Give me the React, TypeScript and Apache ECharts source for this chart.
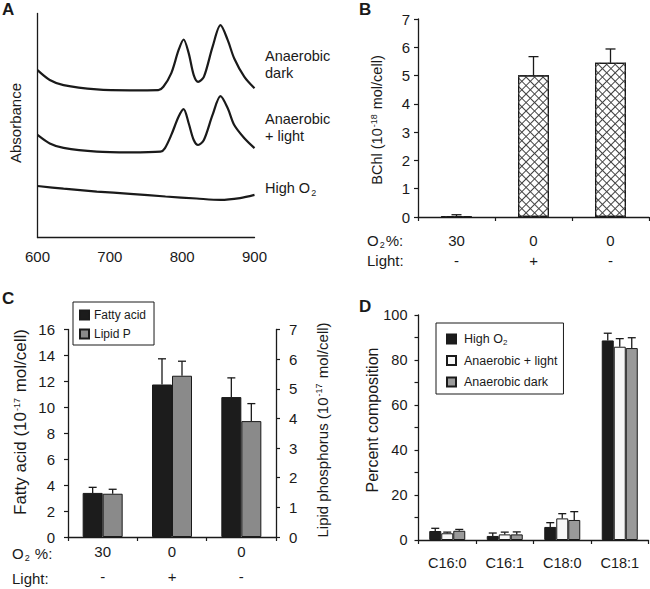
import React, { useEffect, useRef } from 'react';
import * as echarts from 'echarts';

const FONT = '"Liberation Sans", Arial, Helvetica, sans-serif';
const INK = '#1a1a1a';

// ---------- Panel A: absorbance spectra (arbitrary units) ----------
const darkWl = [600, 617, 636, 682, 728, 767, 774, 785, 795, 802, 809, 816, 822, 830, 842, 853, 863, 872, 886, 900];
const darkAbs = [0.747, 0.703, 0.68, 0.661, 0.657, 0.658, 0.673, 0.734, 0.836, 0.884, 0.823, 0.725, 0.695, 0.717, 0.851, 0.948, 0.881, 0.799, 0.717, 0.666];
const lightWl = [600, 617, 636, 682, 728, 770, 776, 785, 795, 802, 809, 816, 822, 830, 842, 853, 863, 872, 886, 900];
const lightAbs = [0.458, 0.42, 0.4, 0.383, 0.38, 0.383, 0.398, 0.458, 0.539, 0.573, 0.51, 0.435, 0.413, 0.435, 0.547, 0.631, 0.577, 0.502, 0.443, 0.399];
const highWl = [600, 636, 682, 728, 777, 820, 853, 880, 900];
const highAbs = [0.23, 0.218, 0.205, 0.195, 0.183, 0.174, 0.168, 0.176, 0.19];
const wlTicks = [600, 700, 800, 900];

// ---------- Panels B & C: growth conditions ----------
const o2Levels = ['30', '0', '0'];
const lightLevels = ['-', '+', '-'];
const bchl = [0.02, 5.01, 5.45];
const bchlSD = [0.06, 0.66, 0.49];
const fattyAcid = [3.4, 11.76, 10.79];
const fattyAcidSD = [0.43, 1.98, 1.48];
const lipidP = [1.46, 5.44, 3.91];
const lipidPSD = [0.15, 0.49, 0.59];

// ---------- Panel D: fatty acid composition ----------
const acyl = ['C16:0', 'C16:1', 'C18:0', 'C18:1'];
const highO2 = [4.0, 1.8, 5.8, 88.7];
const highO2SD = [1.2, 1.3, 1.9, 3.2];
const anaLight = [3.0, 2.5, 9.6, 85.9];
const anaLightSD = [0.5, 1.0, 2.1, 3.6];
const anaDark = [4.1, 2.5, 8.9, 85.3];
const anaDarkSD = [0.6, 1.1, 3.7, 4.6];

const condCats = o2Levels.map((o, i) => `${o}\n${lightLevels[i]}`);

const axisLine = { show: true, lineStyle: { color: INK, width: 1.3 } };
const tick = { show: true, length: 4, lineStyle: { color: INK, width: 1.2 } };

function errSeries(xi: number, yi: number, values: number[], sds: number[], offset: number, half: number) {
  return {
    type: 'custom',
    xAxisIndex: xi,
    yAxisIndex: yi,
    z: 10,
    silent: true,
    data: values.map((v, i) => [i, v, v + sds[i]]),
    encode: { x: 0, y: [1, 2] },
    renderItem: (_p: any, api: any) => {
      const i = api.value(0);
      const v = api.value(1);
      const t = api.value(2);
      const p0 = api.coord([i, v]);
      const p1 = api.coord([i, t]);
      const x = p0[0] + offset;
      const st = { stroke: INK, lineWidth: 1.3 };
      return {
        type: 'group',
        children: [
          { type: 'line', shape: { x1: x, y1: p0[1], x2: x, y2: p1[1] }, style: st },
          { type: 'line', shape: { x1: x - half, y1: p1[1], x2: x + half, y2: p1[1] }, style: st },
        ],
      };
    },
  };
}

const richSub = {
  sub: { fontSize: 9, fontFamily: FONT, fill: INK, color: INK, verticalAlign: 'top', padding: [8, 1, 0, 1] },
};
const richSup = {
  sup: { fontSize: 9, fontFamily: FONT, fill: INK, color: INK, verticalAlign: 'top', padding: [0, 1, 0, 1] },
};

function txt(x: number, y: number, text: string, extra: any = {}, rot = 0) {
  return {
    type: 'text',
    x,
    y,
    rotation: rot,
    silent: true,
    style: {
      text,
      fontSize: 15,
      fontFamily: FONT,
      fill: INK,
      align: 'left',
      verticalAlign: 'middle',
      lineHeight: 16,
      ...extra,
    },
  };
}

const option: any = {
  animation: false,
  backgroundColor: '#fff',
  textStyle: { fontFamily: FONT, color: INK },
  grid: [
    { left: 37.5, top: 13.5, width: 217, height: 224 },
    { left: 418, top: 19, width: 231, height: 198 },
    { left: 68, top: 329.5, width: 208, height: 210 },
    { left: 418.5, top: 315, width: 230, height: 225 },
  ],
  xAxis: [
    {
      gridIndex: 0, type: 'value', min: wlTicks[0], max: wlTicks[wlTicks.length - 1], interval: 100,
      axisLine, axisTick: { show: false }, splitLine: { show: false },
      axisLabel: { fontSize: 15, color: INK, margin: 11 },
    },
    {
      gridIndex: 1, type: 'category', data: condCats,
      axisLine, axisTick: tick, splitLine: { show: false },
      axisLabel: { fontSize: 15, color: INK, margin: 13, lineHeight: 20 },
    },
    {
      gridIndex: 2, type: 'category', data: condCats,
      axisLine, axisTick: tick, splitLine: { show: false },
      axisLabel: { fontSize: 15, color: INK, margin: 2, lineHeight: 25 },
    },
    {
      gridIndex: 3, type: 'category', data: acyl,
      axisLine, axisTick: tick, splitLine: { show: false },
      axisLabel: { fontSize: 14.5, color: INK, margin: 16, lineHeight: 14 },
    },
  ],
  yAxis: [
    {
      gridIndex: 0, type: 'value', min: 0, max: 1,
      axisLine, axisTick: { show: false }, axisLabel: { show: false }, splitLine: { show: false },
    },
    {
      gridIndex: 1, type: 'value', min: 0, max: 7, interval: 1,
      axisLine, axisTick: tick, splitLine: { show: false },
      axisLabel: { fontSize: 15, color: INK, margin: 8 },
    },
    {
      gridIndex: 2, type: 'value', min: 0, max: 16, interval: 2, position: 'left',
      axisLine, axisTick: tick, splitLine: { show: false },
      axisLabel: { fontSize: 15, color: INK, margin: 13 },
    },
    {
      gridIndex: 2, type: 'value', min: 0, max: 7, interval: 1, position: 'right',
      axisLine, axisTick: tick, splitLine: { show: false },
      axisLabel: { fontSize: 15, color: INK, margin: 13 },
    },
    {
      gridIndex: 3, type: 'value', min: 0, max: 100, interval: 20,
      axisLine, axisTick: tick, splitLine: { show: false },
      minorTick: { show: true, splitNumber: 2, length: 4, lineStyle: { color: INK, width: 1.2 } },
      minorSplitLine: { show: false },
      axisLabel: { fontSize: 14.5, color: INK, margin: 11 },
    },
  ],
  legend: [
    {
      data: ['Fatty acid', 'Lipid P'],
      orient: 'vertical', left: 73, top: 302,
      itemWidth: 9, itemHeight: 9, itemGap: 5, icon: 'rect',
      padding: [6, 8, 4, 6],
      borderColor: INK, borderWidth: 1, selectedMode: false,
      textStyle: { fontSize: 12, color: INK, fontFamily: FONT, lineHeight: 14 },
    },
    {
      data: ['High O2', 'Anaerobic + light', 'Anaerobic dark'],
      orient: 'vertical', left: 436, top: 323,
      itemWidth: 9, itemHeight: 9, itemGap: 7.5, icon: 'rect',
      padding: [9, 6, 5, 10],
      borderColor: INK, borderWidth: 1, selectedMode: false,
      formatter: (n: string) => (n === 'High O2' ? 'High O{sub|2}' : n),
      textStyle: {
        fontSize: 12.5, color: INK, fontFamily: FONT, lineHeight: 14, padding: [0, 0, 0, 3],
        rich: { sub: { fontSize: 8, color: INK, fontFamily: FONT, verticalAlign: 'bottom', padding: [6, 0, 0, 0] } },
      },
    },
  ],
  series: [
    // Panel A
    { type: 'line', xAxisIndex: 0, yAxisIndex: 0, data: darkWl.map((w, i) => [w, darkAbs[i]]), smooth: 0.3, symbol: 'none', lineStyle: { color: INK, width: 2.2 } },
    { type: 'line', xAxisIndex: 0, yAxisIndex: 0, data: lightWl.map((w, i) => [w, lightAbs[i]]), smooth: 0.3, symbol: 'none', lineStyle: { color: INK, width: 2.2 } },
    { type: 'line', xAxisIndex: 0, yAxisIndex: 0, data: highWl.map((w, i) => [w, highAbs[i]]), smooth: 0.3, symbol: 'none', lineStyle: { color: INK, width: 2.2 } },
    // Panel B: cross-hatched bars (two overlaid diagonal decals)
    {
      type: 'bar', name: 'BChl', xAxisIndex: 1, yAxisIndex: 1, data: bchl, barWidth: 31,
      itemStyle: {
        color: '#fff', borderColor: INK, borderWidth: 1.2,
        decal: { symbol: 'rect', dashArrayX: [1, 0], dashArrayY: [1, 4.5], rotation: Math.PI / 4, color: '#444' },
      },
    },
    {
      type: 'bar', name: 'BChl hatch', xAxisIndex: 1, yAxisIndex: 1, data: bchl, barWidth: 31, barGap: '-100%',
      itemStyle: {
        color: 'rgba(0,0,0,0)',
        decal: { symbol: 'rect', dashArrayX: [1, 0], dashArrayY: [1, 4.5], rotation: -Math.PI / 4, color: '#444' },
      },
    },
    errSeries(1, 1, bchl, bchlSD, 0, 5),
    // Panel C
    { type: 'bar', name: 'Fatty acid', xAxisIndex: 2, yAxisIndex: 2, data: fattyAcid, barWidth: 20, itemStyle: { color: '#1c1c1c', borderColor: INK, borderWidth: 1 } },
    { type: 'bar', name: 'Lipid P', xAxisIndex: 2, yAxisIndex: 3, data: lipidP, barWidth: 20, barGap: '0%', itemStyle: { color: '#8a8a8a', borderColor: INK, borderWidth: 1 } },
    errSeries(2, 2, fattyAcid, fattyAcidSD, -10, 4),
    errSeries(2, 3, lipidP, lipidPSD, 10, 4),
    // Panel D
    { type: 'bar', name: 'High O2', xAxisIndex: 3, yAxisIndex: 4, data: highO2, barWidth: 12, itemStyle: { color: '#1c1c1c', borderColor: INK, borderWidth: 1 } },
    { type: 'bar', name: 'Anaerobic + light', xAxisIndex: 3, yAxisIndex: 4, data: anaLight, barWidth: 12, itemStyle: { color: '#f7f7f7', borderColor: INK, borderWidth: 1 } },
    { type: 'bar', name: 'Anaerobic dark', xAxisIndex: 3, yAxisIndex: 4, data: anaDark, barWidth: 12, barGap: '0%', itemStyle: { color: '#9a9a9a', borderColor: INK, borderWidth: 1 } },
    errSeries(3, 4, highO2, highO2SD, -12, 4),
    errSeries(3, 4, anaLight, anaLightSD, 0, 4),
    errSeries(3, 4, anaDark, anaDarkSD, 12, 4),
  ],
  graphic: [
    // panel letters
    txt(2, 9, 'A', { fontSize: 17, fontWeight: 'bold' }),
    txt(359, 9, 'B', { fontSize: 17, fontWeight: 'bold' }),
    txt(2, 298, 'C', { fontSize: 17, fontWeight: 'bold' }),
    txt(359, 306, 'D', { fontSize: 17, fontWeight: 'bold' }),
    // panel A annotations
    txt(265, 64.5, 'Anaerobic\ndark', { fontSize: 14.5, lineHeight: 17 }),
    txt(265, 127, 'Anaerobic\n+ light', { fontSize: 14.5, lineHeight: 17 }),
    txt(265, 188, 'High O{sub|2}', { fontSize: 14.5, rich: richSub }),
    txt(15, 123, 'Absorbance', { fontSize: 15, align: 'center' }, Math.PI / 2),
    // panel B
    txt(377, 120, 'BChl (10{sup|-18} mol/cell)', { fontSize: 14.5, align: 'center', rich: richSup }, Math.PI / 2),
    txt(367, 240, 'O{sub|2}%:', { rich: richSub }),
    txt(367, 260, 'Light:'),
    // panel C
    txt(20, 422, 'Fatty acid (10{sup|-17} mol/cell)', { fontSize: 17, align: 'center', rich: richSup }, Math.PI / 2),
    txt(322, 430, 'Lipid phosphorus (10{sup|-17} mol/cell)', { fontSize: 15, align: 'center', rich: richSup }, Math.PI / 2),
    txt(12, 553, 'O{sub|2} %:', { rich: richSub }),
    txt(12, 578, 'Light:'),
    // panel D
    txt(372, 420, 'Percent composition', { fontSize: 16, align: 'center' }, Math.PI / 2),
  ],
};

export default function App() {
  const ref = useRef<HTMLDivElement>(null);
  useEffect(() => {
    document.body.style.margin = '0';
    const chart = echarts.init(ref.current!, null, { renderer: 'svg' });
    chart.setOption(option);
    return () => chart.dispose();
  }, []);
  return <div ref={ref} style={{ width: 650, height: 589 }} />;
}
